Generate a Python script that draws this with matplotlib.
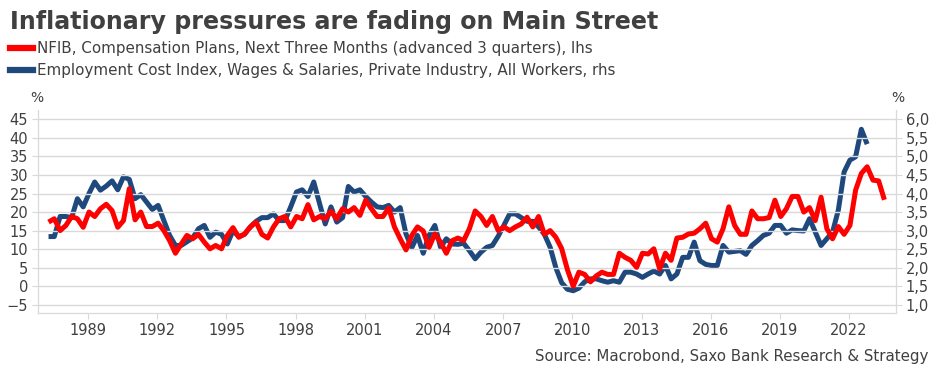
import numpy as np
import pandas as pd
import matplotlib
matplotlib.use('Agg')
import matplotlib.pyplot as plt
import matplotlib.dates as mdates
from matplotlib.ticker import FixedLocator, FuncFormatter

# NFIB compensation plans (advanced 3 quarters), %, quarterly from 1987Q1, lhs
nfib = [17.3, 18.2, 15, 16.4, 18.8, 18.2, 15.9, 20, 18.8, 20.9, 22.1, 20.4, 15.9, 17.7, 26.3, 17.9,
        20, 16.1, 16.1, 17, 15, 12.3, 8.9, 11.4, 13.7, 12.8, 14, 11.9, 10.1, 11, 10.1, 13.7,
        15.8, 13.2, 14.1, 16, 17.3, 14,
        13, 16, 18.2, 18.8, 16, 18.8, 18.2, 22, 17.9, 18.8, 18.2, 20.2, 18.2, 20.9, 20, 21.2,
        19.1, 23.2, 20.9, 18.8, 18.8, 21.1, 16, 12.8, 9.8, 13.7, 16, 14.9, 10.5, 14.1, 11.9, 8.9,
        12.3, 13, 12.3, 15.5, 20.3, 18.8, 16.4,
        18.8, 15, 16, 15, 16, 16.8, 18.6, 16, 18.8, 14, 15, 13.2, 10.2, 4.5, 0, 3.8, 3.2, 1.2,
        2.8, 3.8, 3.2, 3.2, 8.9, 7.8, 7, 5.1, 8.9, 8.7, 10.1, 4.7, 8.9, 7, 13, 13.2, 14.1, 14.3, 15.5,
        17, 12.8, 11.9, 15.5, 21.4, 16.4, 14, 14, 20.3, 18.2, 18.2, 18.5, 23.2, 18.8, 20.9, 24.2,
        24.2, 20, 21.2, 17.7, 24, 15.5, 12.8, 16.1, 14, 16.4, 25.9, 30.4, 32.2, 28.6, 28.4, 23.3]

# ECI wages & salaries, private industry, % y/y, quarterly from 1987Q1, rhs
eci = [2.84, 2.84, 3.38, 3.38, 3.35, 3.86, 3.64, 4.0, 4.31, 4.09, 4.2, 4.34, 4.1, 4.45, 4.38, 3.86,
       3.97, 3.77, 3.57, 3.68, 3.27, 2.87, 2.6, 2.6, 2.7, 2.8, 3.05, 3.14, 2.82, 2.96, 2.9, 2.64,
       3.0, 2.84, 2.9, 3.1, 3.25, 3.35,
       3.35, 3.45, 3.27, 3.27, 3.64, 4.04, 4.1, 3.92, 4.31, 3.73, 3.18, 3.64, 3.23, 3.35, 4.19, 4.04,
       4.1, 3.92, 3.77, 3.64, 3.62, 3.68, 3.5, 3.62, 2.91, 2.54, 2.87, 2.39, 2.87, 3.14, 2.55, 2.78,
       2.64, 2.63, 2.66, 2.46, 2.24, 2.42, 2.55,
       2.6, 2.85, 3.15, 3.45, 3.45, 3.35, 3.25, 3.25, 3.1, 2.9, 2.55, 2.0, 1.6, 1.42, 1.38, 1.45,
       1.62, 1.7, 1.7, 1.65, 1.61, 1.65, 1.61, 1.88, 1.88, 1.83, 1.74, 1.83, 1.91, 1.83, 2.06, 1.7,
       1.83, 2.28, 2.28, 2.69, 2.19,
       2.09, 2.06, 2.06, 2.6, 2.42, 2.44, 2.46, 2.36, 2.6, 2.73, 2.87, 2.93, 3.14, 3.14, 2.93, 3.02,
       3.0, 2.99, 3.32, 2.96, 2.6, 2.78, 2.96, 3.55, 4.58, 4.9, 4.99, 5.73, 5.33]

left_ticks = [-5, 0, 5, 10, 15, 20, 25, 30, 35, 40, 45]
right_ticks = [1.0, 1.5, 2.0, 2.5, 3.0, 3.5, 4.0, 4.5, 5.0, 5.5, 6.0]

title = 'Inflationary pressures are fading on Main Street'
label_nfib = 'NFIB, Compensation Plans, Next Three Months (advanced 3 quarters), lhs'
label_eci = 'Employment Cost Index, Wages & Salaries, Private Industry, All Workers, rhs'
source = 'Source: Macrobond, Saxo Bank Research & Strategy'

red = '#FF0000'
blue = '#1F497D'
grey_txt = '#404040'
grid_c = '#D9D9D9'

dates_nfib = pd.date_range('1987-01-15', periods=len(nfib), freq='QS-JAN') + pd.Timedelta(days=14)
dates_eci = pd.date_range('1987-01-15', periods=len(eci), freq='QS-JAN') + pd.Timedelta(days=14)

fig = plt.figure(figsize=(9.39, 3.77), dpi=100)
ax = fig.add_axes([38 / 939, 1 - 313 / 377, (896 - 38) / 939, (313 - 110) / 377])
ax2 = ax.twinx()

ax.set_ylim(-7.2, 47.5)
ax2.set_ylim(0.78, 6.25)
ax.set_xlim(pd.Timestamp('1986-10-30'), pd.Timestamp('2024-01-15'))

ax2.plot(dates_eci, eci, color=blue, lw=3.6, solid_capstyle='butt')
ax.plot(dates_nfib, nfib, color=red, lw=3.6, solid_capstyle='butt')
ax.set_zorder(ax2.get_zorder() + 1)
ax.patch.set_visible(False)

ax.yaxis.set_major_locator(FixedLocator(left_ticks))
ax2.yaxis.set_major_locator(FixedLocator(right_ticks))
ax2.yaxis.set_major_formatter(FuncFormatter(lambda v, p: f'{v:.1f}'.replace('.', ',')))
ax.grid(axis='y', color=grid_c, lw=1)
ax.xaxis.set_major_locator(mdates.YearLocator(3))
ax.xaxis.set_major_formatter(mdates.DateFormatter('%Y'))

for a in (ax, ax2):
    for s in a.spines.values():
        s.set_color(grid_c)
    a.spines['top'].set_visible(False)
    a.tick_params(colors=grid_c, labelcolor=grey_txt, length=4)
ax.tick_params(axis='y', labelsize=10.5, pad=3)
ax2.tick_params(axis='y', labelsize=10.5, pad=3)
ax.tick_params(axis='x', labelsize=10.5, pad=3)

fig.text(10 / 939, 1 - 22 / 377, title, fontsize=17.1, fontweight='bold', color=grey_txt, va='center')
for i, (lab, col) in enumerate([(label_nfib, red), (label_eci, blue)]):
    yy = 1 - (48 + i * 22) / 377
    fig.add_artist(plt.Line2D([10 / 939, 33 / 939], [yy, yy], color=col, lw=4.5, transform=fig.transFigure))
    fig.text(37 / 939, yy, lab, fontsize=10.9, color=grey_txt, va='center')
fig.text(37 / 939, 1 - 98 / 377, '%', fontsize=10, color=grey_txt, ha='center', va='center')
fig.text(898 / 939, 1 - 98 / 377, '%', fontsize=10, color=grey_txt, ha='center', va='center')
fig.text(928 / 939, 1 - 357 / 377, source, fontsize=10.8, color=grey_txt, ha='right', va='center')

fig.savefig('out.png', dpi=100)
